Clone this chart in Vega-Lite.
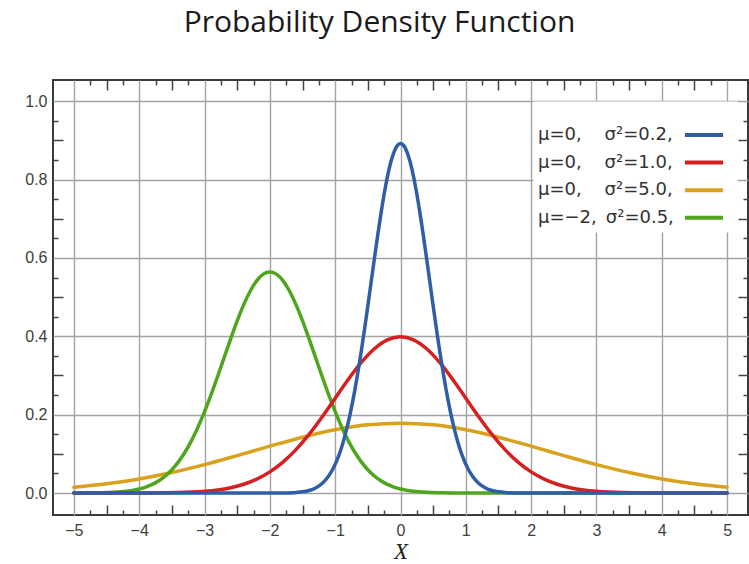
{
  "$schema": "https://vega.github.io/schema/vega-lite/v6.json",
  "width": 695,
  "height": 435,
  "autosize": "none",
  "padding": {"left": 53, "top": 80, "right": 1, "bottom": 49},
  "background": "white",
  "title": {
    "text": "Probability Density Function",
    "font": "Open Sans",
    "fontSize": 30,
    "fontWeight": "normal",
    "color": "#1a1a1a",
    "anchor": "middle",
    "frame": "group",
    "baseline": "alphabetic",
    "offset": 17,
    "dx": -21
  },
  "config": {
    "view": {"stroke": "#3a3a3a", "strokeWidth": 2},
    "axis": {"labelFont": "Liberation Sans", "labelFontSize": 16, "labelColor": "#404040", "tickColor": "#444444", "tickWidth": 1.5}
  },
  "data": {
    "values": [
      {"s": "c", "x": -5, "y": 0.0146}, {"s": "c", "x": -4.5, "y": 0.0235}, {"s": "c", "x": -4, "y": 0.036}, {"s": "c", "x": -3.5, "y": 0.0524},
      {"s": "c", "x": -3, "y": 0.0725}, {"s": "c", "x": -2.5, "y": 0.0955}, {"s": "c", "x": -2, "y": 0.1196}, {"s": "c", "x": -1.5, "y": 0.1425},
      {"s": "c", "x": -1, "y": 0.1614}, {"s": "c", "x": -0.5, "y": 0.174}, {"s": "c", "x": 0, "y": 0.1784}, {"s": "c", "x": 0.5, "y": 0.174},
      {"s": "c", "x": 1, "y": 0.1614}, {"s": "c", "x": 1.5, "y": 0.1425}, {"s": "c", "x": 2, "y": 0.1196}, {"s": "c", "x": 2.5, "y": 0.0955},
      {"s": "c", "x": 3, "y": 0.0725}, {"s": "c", "x": 3.5, "y": 0.0524}, {"s": "c", "x": 4, "y": 0.036}, {"s": "c", "x": 4.5, "y": 0.0235},
      {"s": "c", "x": 5, "y": 0.0146},

      {"s": "d", "x": -5, "y": 0.0001}, {"s": "d", "x": -4.8, "y": 0.0002}, {"s": "d", "x": -4.6, "y": 0.0007}, {"s": "d", "x": -4.4, "y": 0.0018},
      {"s": "d", "x": -4.2, "y": 0.0045}, {"s": "d", "x": -4, "y": 0.0103}, {"s": "d", "x": -3.9, "y": 0.0153}, {"s": "d", "x": -3.8, "y": 0.0221},
      {"s": "d", "x": -3.7, "y": 0.0314}, {"s": "d", "x": -3.6, "y": 0.0436}, {"s": "d", "x": -3.5, "y": 0.0595}, {"s": "d", "x": -3.4, "y": 0.0795},
      {"s": "d", "x": -3.3, "y": 0.1041}, {"s": "d", "x": -3.2, "y": 0.1337}, {"s": "d", "x": -3.1, "y": 0.1682}, {"s": "d", "x": -3, "y": 0.2076},
      {"s": "d", "x": -2.9, "y": 0.251}, {"s": "d", "x": -2.8, "y": 0.2975}, {"s": "d", "x": -2.7, "y": 0.3456}, {"s": "d", "x": -2.6, "y": 0.3936},
      {"s": "d", "x": -2.5, "y": 0.4394}, {"s": "d", "x": -2.4, "y": 0.4808}, {"s": "d", "x": -2.3, "y": 0.5156}, {"s": "d", "x": -2.2, "y": 0.5421},
      {"s": "d", "x": -2.1, "y": 0.5586}, {"s": "d", "x": -2, "y": 0.5642}, {"s": "d", "x": -1.9, "y": 0.5586}, {"s": "d", "x": -1.8, "y": 0.5421},
      {"s": "d", "x": -1.7, "y": 0.5156}, {"s": "d", "x": -1.6, "y": 0.4808}, {"s": "d", "x": -1.5, "y": 0.4394}, {"s": "d", "x": -1.4, "y": 0.3936},
      {"s": "d", "x": -1.3, "y": 0.3456}, {"s": "d", "x": -1.2, "y": 0.2975}, {"s": "d", "x": -1.1, "y": 0.251}, {"s": "d", "x": -1, "y": 0.2076},
      {"s": "d", "x": -0.9, "y": 0.1682}, {"s": "d", "x": -0.8, "y": 0.1337}, {"s": "d", "x": -0.7, "y": 0.1041}, {"s": "d", "x": -0.6, "y": 0.0795},
      {"s": "d", "x": -0.5, "y": 0.0595}, {"s": "d", "x": -0.4, "y": 0.0436}, {"s": "d", "x": -0.3, "y": 0.0314}, {"s": "d", "x": -0.2, "y": 0.0221},
      {"s": "d", "x": -0.1, "y": 0.0153}, {"s": "d", "x": 0, "y": 0.0103}, {"s": "d", "x": 0.2, "y": 0.0045}, {"s": "d", "x": 0.4, "y": 0.0018},
      {"s": "d", "x": 0.6, "y": 0.0007}, {"s": "d", "x": 0.8, "y": 0.0002}, {"s": "d", "x": 1, "y": 0.0001}, {"s": "d", "x": 2, "y": 0},
      {"s": "d", "x": 3, "y": 0}, {"s": "d", "x": 4, "y": 0}, {"s": "d", "x": 5, "y": 0},

      {"s": "b", "x": -5, "y": 0}, {"s": "b", "x": -4.5, "y": 0}, {"s": "b", "x": -4, "y": 0.0001}, {"s": "b", "x": -3.8, "y": 0.0003},
      {"s": "b", "x": -3.6, "y": 0.0006}, {"s": "b", "x": -3.4, "y": 0.0012}, {"s": "b", "x": -3.2, "y": 0.0024}, {"s": "b", "x": -3, "y": 0.0044},
      {"s": "b", "x": -2.8, "y": 0.0079}, {"s": "b", "x": -2.6, "y": 0.0136}, {"s": "b", "x": -2.4, "y": 0.0224}, {"s": "b", "x": -2.2, "y": 0.0355},
      {"s": "b", "x": -2, "y": 0.054}, {"s": "b", "x": -1.8, "y": 0.079}, {"s": "b", "x": -1.6, "y": 0.1109}, {"s": "b", "x": -1.4, "y": 0.1497},
      {"s": "b", "x": -1.2, "y": 0.1942}, {"s": "b", "x": -1, "y": 0.242}, {"s": "b", "x": -0.8, "y": 0.2897}, {"s": "b", "x": -0.6, "y": 0.3332},
      {"s": "b", "x": -0.4, "y": 0.3683}, {"s": "b", "x": -0.2, "y": 0.391}, {"s": "b", "x": 0, "y": 0.3989}, {"s": "b", "x": 0.2, "y": 0.391},
      {"s": "b", "x": 0.4, "y": 0.3683}, {"s": "b", "x": 0.6, "y": 0.3332}, {"s": "b", "x": 0.8, "y": 0.2897}, {"s": "b", "x": 1, "y": 0.242},
      {"s": "b", "x": 1.2, "y": 0.1942}, {"s": "b", "x": 1.4, "y": 0.1497}, {"s": "b", "x": 1.6, "y": 0.1109}, {"s": "b", "x": 1.8, "y": 0.079},
      {"s": "b", "x": 2, "y": 0.054}, {"s": "b", "x": 2.2, "y": 0.0355}, {"s": "b", "x": 2.4, "y": 0.0224}, {"s": "b", "x": 2.6, "y": 0.0136},
      {"s": "b", "x": 2.8, "y": 0.0079}, {"s": "b", "x": 3, "y": 0.0044}, {"s": "b", "x": 3.2, "y": 0.0024}, {"s": "b", "x": 3.4, "y": 0.0012},
      {"s": "b", "x": 3.6, "y": 0.0006}, {"s": "b", "x": 3.8, "y": 0.0003}, {"s": "b", "x": 4, "y": 0.0001}, {"s": "b", "x": 4.5, "y": 0},
      {"s": "b", "x": 5, "y": 0},

      {"s": "a", "x": -5, "y": 0}, {"s": "a", "x": -4, "y": 0}, {"s": "a", "x": -3, "y": 0}, {"s": "a", "x": -2.5, "y": 0},
      {"s": "a", "x": -2, "y": 0}, {"s": "a", "x": -1.8, "y": 0.0003}, {"s": "a", "x": -1.6, "y": 0.0015}, {"s": "a", "x": -1.5, "y": 0.0032},
      {"s": "a", "x": -1.4, "y": 0.0066}, {"s": "a", "x": -1.3, "y": 0.0131}, {"s": "a", "x": -1.2, "y": 0.0244}, {"s": "a", "x": -1.1, "y": 0.0433},
      {"s": "a", "x": -1, "y": 0.0732}, {"s": "a", "x": -0.95, "y": 0.0934}, {"s": "a", "x": -0.9, "y": 0.1177}, {"s": "a", "x": -0.85, "y": 0.1466},
      {"s": "a", "x": -0.8, "y": 0.1801}, {"s": "a", "x": -0.75, "y": 0.2186}, {"s": "a", "x": -0.7, "y": 0.2621}, {"s": "a", "x": -0.65, "y": 0.3102},
      {"s": "a", "x": -0.6, "y": 0.3627}, {"s": "a", "x": -0.55, "y": 0.4188}, {"s": "a", "x": -0.5, "y": 0.4775}, {"s": "a", "x": -0.45, "y": 0.5377},
      {"s": "a", "x": -0.4, "y": 0.598}, {"s": "a", "x": -0.35, "y": 0.6567}, {"s": "a", "x": -0.3, "y": 0.7124}, {"s": "a", "x": -0.25, "y": 0.763},
      {"s": "a", "x": -0.2, "y": 0.8072}, {"s": "a", "x": -0.15, "y": 0.8433}, {"s": "a", "x": -0.1, "y": 0.8701}, {"s": "a", "x": -0.05, "y": 0.8865},
      {"s": "a", "x": 0, "y": 0.8921}, {"s": "a", "x": 0.05, "y": 0.8865}, {"s": "a", "x": 0.1, "y": 0.8701}, {"s": "a", "x": 0.15, "y": 0.8433},
      {"s": "a", "x": 0.2, "y": 0.8072}, {"s": "a", "x": 0.25, "y": 0.763}, {"s": "a", "x": 0.3, "y": 0.7124}, {"s": "a", "x": 0.35, "y": 0.6567},
      {"s": "a", "x": 0.4, "y": 0.598}, {"s": "a", "x": 0.45, "y": 0.5377}, {"s": "a", "x": 0.5, "y": 0.4775}, {"s": "a", "x": 0.55, "y": 0.4188},
      {"s": "a", "x": 0.6, "y": 0.3627}, {"s": "a", "x": 0.65, "y": 0.3102}, {"s": "a", "x": 0.7, "y": 0.2621}, {"s": "a", "x": 0.75, "y": 0.2186},
      {"s": "a", "x": 0.8, "y": 0.1801}, {"s": "a", "x": 0.85, "y": 0.1466}, {"s": "a", "x": 0.9, "y": 0.1177}, {"s": "a", "x": 0.95, "y": 0.0934},
      {"s": "a", "x": 1, "y": 0.0732}, {"s": "a", "x": 1.1, "y": 0.0433}, {"s": "a", "x": 1.2, "y": 0.0244}, {"s": "a", "x": 1.3, "y": 0.0131},
      {"s": "a", "x": 1.4, "y": 0.0066}, {"s": "a", "x": 1.5, "y": 0.0032}, {"s": "a", "x": 1.6, "y": 0.0015}, {"s": "a", "x": 1.8, "y": 0.0003},
      {"s": "a", "x": 2, "y": 0}, {"s": "a", "x": 2.5, "y": 0}, {"s": "a", "x": 3, "y": 0}, {"s": "a", "x": 4, "y": 0},
      {"s": "a", "x": 5, "y": 0}
    ]
  },
  "resolve": {"axis": {"x": "independent", "y": "independent"}},
  "layer": [
    {
      "mark": {"type": "line", "interpolate": "monotone", "strokeWidth": 3.5, "strokeCap": "round"},
      "encoding": {
        "x": {
          "field": "x", "type": "quantitative",
          "scale": {"domain": [-5.32, 5.32], "nice": false, "zero": false},
          "axis": {
            "orient": "bottom", "values": [-5, -4, -3, -2, -1, 0, 1, 2, 3, 4, 5],
            "grid": true, "gridColor": "#a3a3a3", "gridWidth": 1.4, "ticks": false, "domain": false,
            "labelPadding": 7,
            "title": "X", "titleFont": "Liberation Serif", "titleFontStyle": "italic", "titleFontWeight": "normal",
            "titleFontSize": 23, "titleColor": "#222222", "titlePadding": 2
          }
        },
        "y": {
          "field": "y", "type": "quantitative",
          "scale": {"domain": [-0.056, 1.054], "nice": false, "zero": false},
          "axis": {
            "orient": "left", "values": [0, 0.2, 0.4, 0.6, 0.8, 1], "format": ".1f",
            "grid": true, "gridColor": "#a3a3a3", "gridWidth": 1.4, "ticks": false, "domain": false,
            "labelPadding": 6, "title": null
          }
        },
        "color": {
          "field": "s", "type": "nominal",
          "scale": {"domain": ["a", "b", "c", "d"], "range": ["#2f5ea5", "#d62020", "#d9a21e", "#4fa61e"]},
          "legend": {
            "orient": "none", "legendX": 480, "legendY": 21,
            "title": " ", "titleOrient": "top", "titleFontSize": 10, "titlePadding": 10,
            "padding": 5, "fillColor": "white", "strokeColor": "transparent",
            "rowPadding": 9.6,
            "symbolType": "M-2.8,0H2.8", "symbolSize": 185, "symbolStrokeWidth": 4, "symbolOffset": 157,
            "labelOffset": -175, "labelFont": "DejaVu Sans", "labelFontSize": 18, "labelColor": "#333333", "labelLimit": 300,
            "labelExpr": "datum.label == 'a' ? 'μ=0,\u00a0\u00a0\u00a0\u00a0σ²=0.2,' : datum.label == 'b' ? 'μ=0,\u00a0\u00a0\u00a0\u00a0σ²=1.0,' : datum.label == 'c' ? 'μ=0,\u00a0\u00a0\u00a0\u00a0σ²=5.0,' : 'μ=−2,\u2002σ²=0.5,'"
          }
        }
      }
    },
    {
      "mark": {"type": "point", "opacity": 0},
      "encoding": {
        "x": {
          "field": "x", "type": "quantitative",
          "scale": {"domain": [-5.32, 5.32], "nice": false, "zero": false},
          "axis": {"orient": "bottom", "values": [-4.75, -4.25, -3.75, -3.25, -2.75, -2.25, -1.75, -1.25, -0.75, -0.25, 0.25, 0.75, 1.25, 1.75, 2.25, 2.75, 3.25, 3.75, 4.25, 4.75], "grid": false, "labels": false, "domain": false, "tickSize": -5, "title": null}
        },
        "y": {
          "field": "y", "type": "quantitative",
          "scale": {"domain": [-0.056, 1.054], "nice": false, "zero": false},
          "axis": {"orient": "left", "values": [0.05, 0.15, 0.25, 0.35, 0.45, 0.55, 0.65, 0.75, 0.85, 0.95], "grid": false, "labels": false, "domain": false, "tickSize": -5, "title": null}
        }
      }
    },
    {
      "mark": {"type": "point", "opacity": 0},
      "encoding": {
        "x": {
          "field": "x", "type": "quantitative",
          "scale": {"domain": [-5.32, 5.32], "nice": false, "zero": false},
          "axis": {"orient": "bottom", "values": [-4.5, -3.5, -2.5, -1.5, -0.5, 0.5, 1.5, 2.5, 3.5, 4.5], "grid": false, "labels": false, "domain": false, "tickSize": -10, "title": null}
        },
        "y": {
          "field": "y", "type": "quantitative",
          "scale": {"domain": [-0.056, 1.054], "nice": false, "zero": false},
          "axis": {"orient": "left", "values": [0.1, 0.3, 0.5, 0.7, 0.9], "grid": false, "labels": false, "domain": false, "tickSize": -10, "title": null}
        }
      }
    },
    {
      "mark": {"type": "point", "opacity": 0},
      "encoding": {
        "x": {
          "field": "x", "type": "quantitative",
          "scale": {"domain": [-5.32, 5.32], "nice": false, "zero": false},
          "axis": {"orient": "top", "values": [-4.75, -4.25, -3.75, -3.25, -2.75, -2.25, -1.75, -1.25, -0.75, -0.25, 0.25, 0.75, 1.25, 1.75, 2.25, 2.75, 3.25, 3.75, 4.25, 4.75], "grid": false, "labels": false, "domain": false, "tickSize": -5, "title": null}
        },
        "y": {
          "field": "y", "type": "quantitative",
          "scale": {"domain": [-0.056, 1.054], "nice": false, "zero": false},
          "axis": {"orient": "right", "values": [0.05, 0.15, 0.25, 0.35, 0.45, 0.55, 0.65, 0.75, 0.85, 0.95], "grid": false, "labels": false, "domain": false, "tickSize": -5, "title": null}
        }
      }
    },
    {
      "mark": {"type": "point", "opacity": 0},
      "encoding": {
        "x": {
          "field": "x", "type": "quantitative",
          "scale": {"domain": [-5.32, 5.32], "nice": false, "zero": false},
          "axis": {"orient": "top", "values": [-4.5, -3.5, -2.5, -1.5, -0.5, 0.5, 1.5, 2.5, 3.5, 4.5], "grid": false, "labels": false, "domain": false, "tickSize": -10, "title": null}
        },
        "y": {
          "field": "y", "type": "quantitative",
          "scale": {"domain": [-0.056, 1.054], "nice": false, "zero": false},
          "axis": {"orient": "right", "values": [0.1, 0.3, 0.5, 0.7, 0.9], "grid": false, "labels": false, "domain": false, "tickSize": -10, "title": null}
        }
      }
    }
  ]
}
